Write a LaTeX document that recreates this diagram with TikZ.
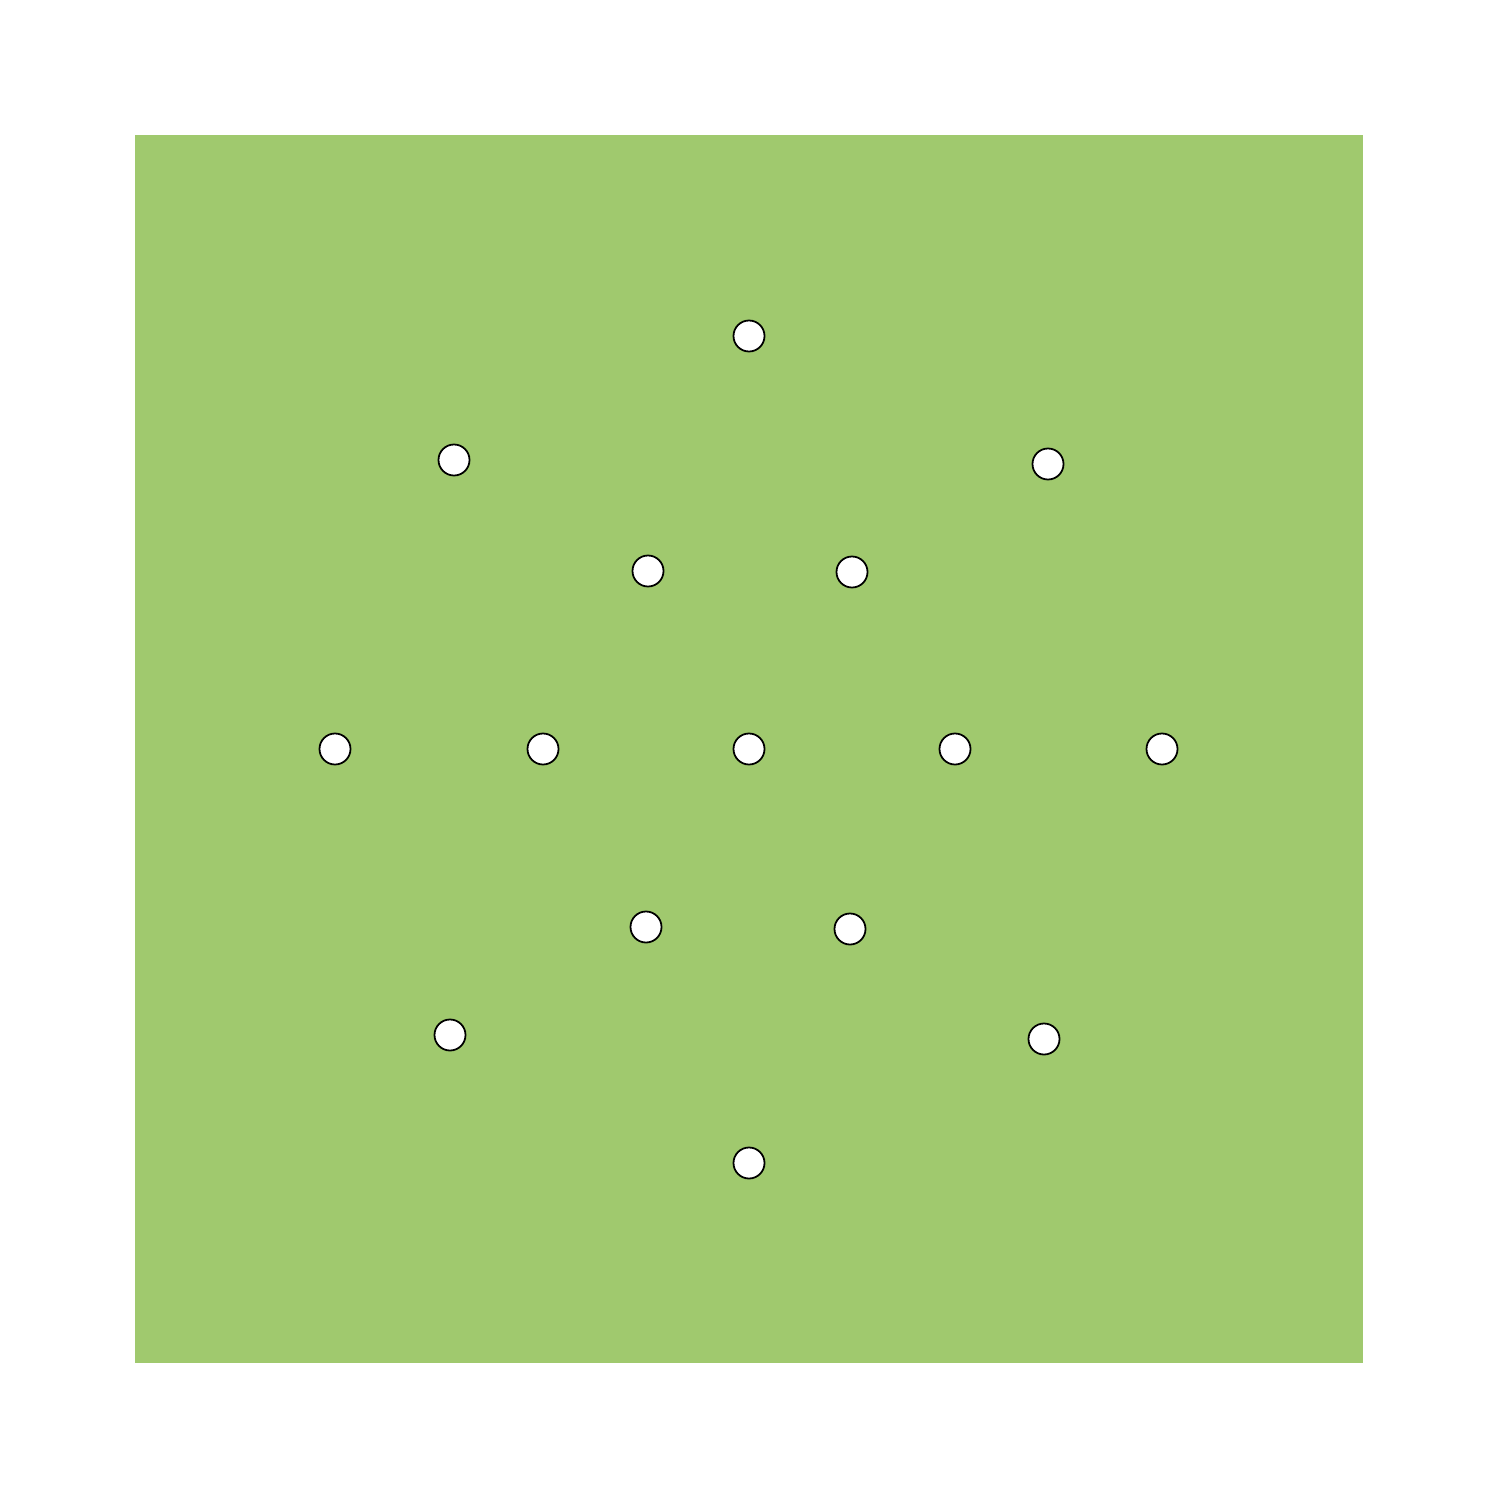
\documentclass[tikz,border=0pt]{standalone}
\definecolor{boardgreen}{HTML}{A0C96E}
\begin{document}
\begin{tikzpicture}[x=0.01cm,y=-0.01cm,
  hole/.style={circle,draw=black,line width=0.5pt,fill=white,minimum size=0.31cm,inner sep=0pt}]
\useasboundingbox (0,0) rectangle (1500,1500);
\fill[white] (0,0) rectangle (1500,1500);
\fill[boardgreen] (135,135) rectangle (1363,1363);
\node[hole] (h1) at (749,336) {};
\node[hole] (h2) at (454,460) {};
\node[hole] (h3) at (1048,464) {};
\node[hole] (h4) at (648,571) {};
\node[hole] (h5) at (852,572) {};
\node[hole] (h6) at (335,749) {};
\node[hole] (h7) at (543,749) {};
\node[hole] (h8) at (749,749) {};
\node[hole] (h9) at (955,749) {};
\node[hole] (h10) at (1162,749) {};
\node[hole] (h11) at (646,927) {};
\node[hole] (h12) at (850,929) {};
\node[hole] (h13) at (450,1035) {};
\node[hole] (h14) at (1044,1039) {};
\node[hole] (h15) at (749,1163) {};
\end{tikzpicture}
\end{document}
